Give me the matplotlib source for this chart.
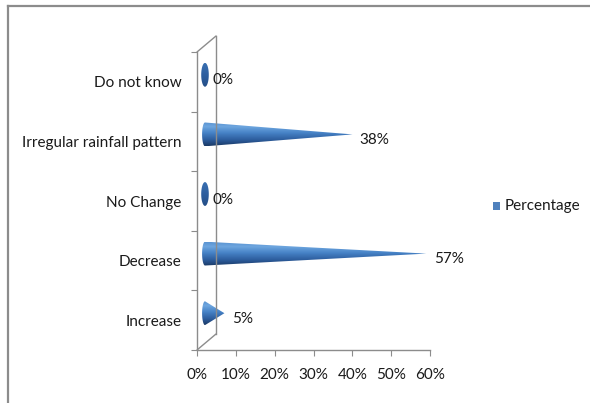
import numpy as np
import matplotlib.pyplot as plt
from matplotlib.patches import Polygon
from matplotlib.lines import Line2D
from matplotlib.transforms import ScaledTranslation
from matplotlib.colors import LinearSegmentedColormap

categories = ["Increase", "Decrease", "No Change",
              "Irregular rainfall pattern", "Do not know"]
percentage = [5, 57, 0, 38, 0]
value_labels = ["5%", "57%", "0%", "38%", "0%"]
xticks = [0, 10, 20, 30, 40, 50, 60]
xtick_labels = ["0%", "10%", "20%", "30%", "40%", "50%", "60%"]

plt.rcParams['font.family'] = ['Lato', 'DejaVu Sans']
grey = "#8c8c8c"
txt = "#1a1a1a"

fig = plt.figure(figsize=(5.9, 4.03), dpi=100)
W, H = 590, 403
ax = fig.add_axes([197 / W, (H - 350) / H, 233 / W, 298 / H])
ax.set_xlim(0, 60)
ax.set_ylim(-0.5, len(categories) - 0.5)

# picture frame
fig.add_artist(Line2D([8 / W, 1], [1 - 6 / H, 1 - 6 / H], color=grey, lw=1.6,
                      transform=fig.transFigure))
fig.add_artist(Line2D([8 / W, 8 / W], [0, 1 - 6 / H], color=grey, lw=1.6,
                      transform=fig.transFigure))

# axes look
for s in ["top", "right"]:
    ax.spines[s].set_visible(False)
for s in ["left", "bottom"]:
    ax.spines[s].set_color(grey)
    ax.spines[s].set_linewidth(1.0)

ax.set_xticks(xticks)
ax.set_xticklabels(xtick_labels, fontsize=11, color=txt)
ax.tick_params(axis="x", direction="out", length=4, color=grey, pad=9)

ax.set_yticks(np.arange(-0.5, len(categories), 1.0))
ax.set_yticklabels([])
ax.set_yticks(np.arange(len(categories)), minor=True)
ax.set_yticklabels(categories, minor=True, fontsize=11, color=txt)
ax.tick_params(axis="y", which="major", direction="out", length=4, color=grey)
ax.tick_params(axis="y", which="minor", length=0, pad=11)

# 3D back wall
back = ax.transData + ScaledTranslation(19 / 100, 16 / 100, fig.dpi_scale_trans)
y0, y1 = ax.get_ylim()
ax.plot([0, 0], [y0, y1], color=grey, lw=1.0, transform=back, clip_on=False)
for yy in (y0, y1):
    ax.annotate("", xy=(0, yy), xycoords=back, xytext=(0, yy),
                textcoords=ax.transData,
                arrowprops=dict(arrowstyle="-", color=grey, lw=1.0,
                                shrinkA=0, shrinkB=0))

# cones
mid = ax.transData + ScaledTranslation(8 / 100, 7 / 100, fig.dpi_scale_trans)
cmap = LinearSegmentedColormap.from_list(
    "cone", [(0.0, "#1b3a66"), (0.25, "#2c5c9c"), (0.55, "#4682c6"),
             (0.82, "#6ea6df"), (1.0, "#5a94d2")])
ew, hh = 0.75, 0.2
for i, v in enumerate(percentage):
    if v > 0:
        t = np.linspace(np.pi / 2, 3 * np.pi / 2, 30)
        pts = [(v, i)] + [(ew * np.cos(a), i + hh * np.sin(a)) for a in t]
    else:
        t = np.linspace(0, 2 * np.pi, 60)
        pts = [(ew * 1.3 * np.cos(a), i + hh * np.sin(a)) for a in t]
    poly = Polygon(pts, closed=True, transform=mid, facecolor="none",
                   edgecolor="none", clip_on=False)
    ax.add_patch(poly)
    grad = np.linspace(0, 1, 64).reshape(-1, 1)
    if v == 0:
        grad = grad * 0.25 + 0.15
    im = ax.imshow(grad, cmap=cmap, vmin=0, vmax=1, aspect="auto",
                   origin="lower",
                   extent=(-ew * 1.5, max(v, 1), i - hh, i + hh),
                   transform=mid, clip_on=True, interpolation="bilinear")
    im.set_clip_path(poly)
    ax.annotate(value_labels[i], xy=(v, i), xytext=(11, 1),
                textcoords="offset points", va="center", ha="left",
                fontsize=11, color=txt, annotation_clip=False)

ax.set_xlim(0, 60)
ax.set_ylim(-0.5, len(categories) - 0.5)

# legend
fig.patches.append(plt.Rectangle((493 / W, 1 - 210 / H), 7 / W, 8 / H,
                                 transform=fig.transFigure,
                                 facecolor="#4f81bd", edgecolor="none"))
fig.text(505 / W, 1 - 206 / H, "Percentage", fontsize=11, color=txt,
         va="center", ha="left")

fig.savefig("out.png", dpi=100)
